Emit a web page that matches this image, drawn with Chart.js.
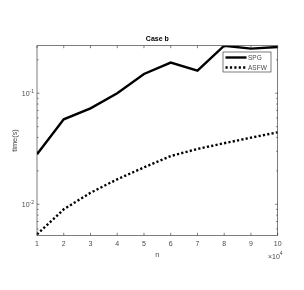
<!DOCTYPE html>
<html>
<head>
<meta charset="utf-8">
<script src="https://cdn.jsdelivr.net/npm/chart.js@4/dist/chart.umd.min.js"></script>
<style>
html,body{margin:0;padding:0;background:#fff;}
canvas{display:block;}
</style>
</head>
<body>
<canvas id="c" width="304" height="290"></canvas>
<script>
// ---- data ----
const nValues = [1, 2, 3, 4, 5, 6, 7, 8, 9, 10];           // n (x 10^4)
const spgTime = [0.0282, 0.0583, 0.0732, 0.100, 0.149, 0.189, 0.160, 0.268, 0.252, 0.261];
const asfwTime = [0.00537, 0.00902, 0.0127, 0.0168, 0.0215, 0.0272, 0.0315, 0.0355, 0.0398, 0.0445];
const seriesLabels = ['SPG', 'ASFW'];
const xTicks = [1, 2, 3, 4, 5, 6, 7, 8, 9, 10];
const yMajorTicks = [0.01, 0.1];
const yMajorLabels = [['10', '-2'], ['10', '-1']];
const yMinorTicks = [0.006, 0.007, 0.008, 0.009, 0.02, 0.03, 0.04, 0.05, 0.06, 0.07, 0.08, 0.09, 0.2];
const titleText = 'Case b';
const xTitle = 'n';
const yTitle = 'time(s)';
const xExponent = ['\u00d710', '4'];

const FONT = '"Liberation Sans", Arial, sans-serif';
const AXIS = '#262626';
const LABEL = '#4a4a4a';

const decor = {
  id: 'decor',
  afterDraw(chart) {
    const ctx = chart.ctx;
    const a = chart.chartArea;
    const xs = chart.scales.x, ys = chart.scales.y;
    ctx.save();
    // box
    ctx.strokeStyle = AXIS;
    ctx.lineWidth = 0.6;
    ctx.strokeRect(a.left, a.top, a.right - a.left, a.bottom - a.top);
    // ticks
    ctx.beginPath();
    xTicks.forEach(v => {
      const px = xs.getPixelForValue(v);
      ctx.moveTo(px, a.bottom); ctx.lineTo(px, a.bottom - 2.5);
      ctx.moveTo(px, a.top); ctx.lineTo(px, a.top + 2.5);
    });
    yMajorTicks.forEach(v => {
      const py = ys.getPixelForValue(v);
      ctx.moveTo(a.left, py); ctx.lineTo(a.left + 2.5, py);
      ctx.moveTo(a.right, py); ctx.lineTo(a.right - 2.5, py);
    });
    yMinorTicks.forEach(v => {
      const py = ys.getPixelForValue(v);
      ctx.moveTo(a.left, py); ctx.lineTo(a.left + 1.5, py);
      ctx.moveTo(a.right, py); ctx.lineTo(a.right - 1.5, py);
    });
    ctx.stroke();

    // x tick labels
    ctx.fillStyle = LABEL;
    ctx.font = '7px ' + FONT;
    ctx.textAlign = 'center';
    ctx.textBaseline = 'middle';
    xTicks.forEach(v => {
      ctx.fillText(String(v), xs.getPixelForValue(v), a.bottom + 8.3);
    });
    // y tick labels with exponent
    yMajorTicks.forEach((v, i) => {
      const py = ys.getPixelForValue(v);
      const base = yMajorLabels[i][0], ex = yMajorLabels[i][1];
      ctx.font = '5px ' + FONT;
      const ew = ctx.measureText(ex).width;
      ctx.font = '7px ' + FONT;
      const bw = ctx.measureText(base).width;
      const right = a.left - 3;
      ctx.textAlign = 'left';
      ctx.fillText(base, right - ew - bw, py + 0.8);
      ctx.font = '5px ' + FONT;
      ctx.fillText(ex, right - ew, py - 1.7);
    });
    // x exponent
    ctx.font = '7px ' + FONT;
    ctx.textAlign = 'left';
    const bw2 = ctx.measureText(xExponent[0]).width;
    ctx.fillText(xExponent[0], 268, 256.8);
    ctx.font = '5px ' + FONT;
    ctx.fillText(xExponent[1], 268 + bw2, 254.1);

    // axis titles
    ctx.fillStyle = LABEL;
    ctx.font = '7.4px ' + FONT;
    ctx.textAlign = 'center';
    ctx.fillText(xTitle, (a.left + a.right) / 2, 255);
    ctx.save();
    ctx.translate(15, (a.top + a.bottom) / 2);
    ctx.rotate(-Math.PI / 2);
    ctx.fillText(yTitle, 0, 0);
    ctx.restore();

    // title
    ctx.fillStyle = '#000';
    ctx.font = 'bold 7px ' + FONT;
    ctx.fillText(titleText, (a.left + a.right) / 2, 39.5);

    // legend
    const lx = 223, ly = 52, lw = 48, lh = 20;
    ctx.fillStyle = '#fff';
    ctx.fillRect(lx, ly, lw, lh);
    ctx.strokeStyle = AXIS;
    ctx.lineWidth = 0.6;
    ctx.strokeRect(lx, ly, lw, lh);
    chart.data.datasets.forEach((ds, i) => {
      const y = ly + 5.5 + i * 10;
      ctx.beginPath();
      ctx.strokeStyle = ds.borderColor;
      ctx.lineWidth = ds.borderWidth;
      ctx.setLineDash(ds.borderDash || []);
      ctx.lineCap = 'butt';
      ctx.moveTo(lx + 2.5, y);
      ctx.lineTo(lx + 23.5, y);
      ctx.stroke();
      ctx.setLineDash([]);
      ctx.fillStyle = LABEL;
      ctx.font = '6.5px ' + FONT;
      ctx.textAlign = 'left';
      ctx.fillText(ds.label, lx + 25, y + 0.5);
    });
    ctx.restore();
  }
};

new Chart(document.getElementById('c'), {
  type: 'line',
  data: {
    datasets: [
      {
        label: seriesLabels[0],
        data: nValues.map((n, i) => ({ x: n, y: spgTime[i] })),
        borderColor: '#000',
        borderWidth: 2.4,
        pointRadius: 0,
        tension: 0,
        fill: false
      },
      {
        label: seriesLabels[1],
        data: nValues.map((n, i) => ({ x: n, y: asfwTime[i] })),
        borderColor: '#000',
        borderWidth: 2.4,
        borderDash: [2.2, 2.2],
        borderCapStyle: 'butt',
        pointRadius: 0,
        tension: 0,
        fill: false
      }
    ]
  },
  options: {
    responsive: false,
    animation: false,
    devicePixelRatio: 1,
    layout: { padding: { left: 0, top: 45.7, right: 26.3, bottom: 0 } },
    plugins: { legend: { display: false }, title: { display: false }, tooltip: { enabled: false } },
    scales: {
      x: {
        type: 'linear',
        min: 1, max: 10,
        grid: { display: false },
        border: { display: false },
        ticks: { display: false, stepSize: 1 },
        afterFit(s) { s.height = 290 - 235.3; }
      },
      y: {
        type: 'logarithmic',
        min: 0.00526, max: 0.268,
        grid: { display: false },
        border: { display: false },
        ticks: { display: false },
        afterFit(s) { s.width = 37; }
      }
    }
  },
  plugins: [decor]
});
</script>
</body>
</html>
